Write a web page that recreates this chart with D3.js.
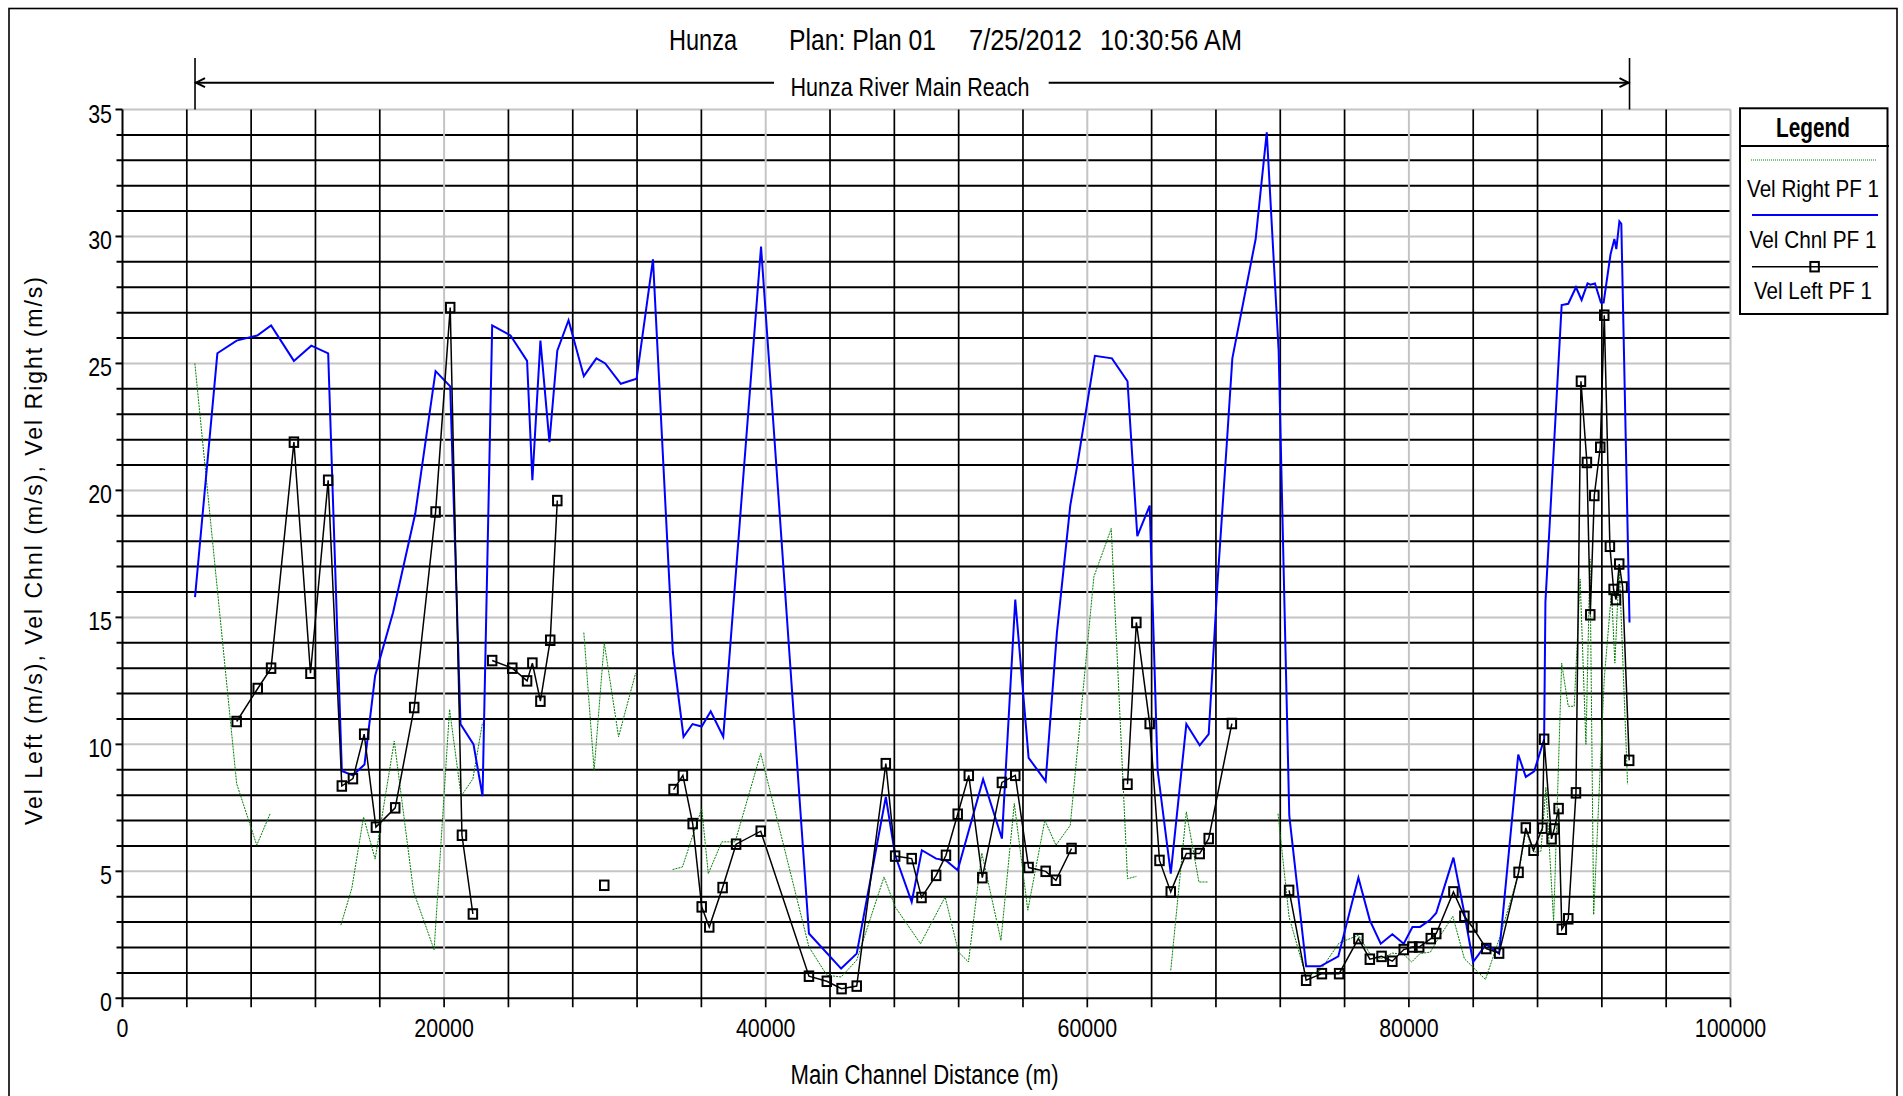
<!DOCTYPE html>
<html>
<head>
<meta charset="utf-8">
<script src="https://cdn.jsdelivr.net/npm/d3@7"></script>
<style>
  html, body { margin: 0; padding: 0; background: #fff; overflow: hidden; }
  svg { display: block; }
</style>
</head>
<body>
<svg id="chart"></svg>
<script>
// ---- Profile data: [main channel station (m), velocity (m/s)]; null = no overbank flow ----
const velChnl = [
  [4510,15.8],[5900,25.4],[7100,25.9],[8380,26.1],[9240,26.5],[10660,25.1],[11740,25.7],[12790,25.4],
  [13640,8.95],[14330,8.78],[15050,9.21],[15710,12.7],[16830,15.2],[18210,19.1],[19470,24.7],[20380,24.1],
  [21020,10.8],[21830,10.0],[22390,7.96],[22990,26.5],[24130,26.1],[25160,25.1],[25490,20.4],[25990,25.9],
  [26550,21.9],[27040,25.5],[27740,26.7],[28690,24.5],[29470,25.2],[30020,25.0],[30990,24.2],[31970,24.4],
  [32990,29.1],[34230,13.6],[34890,10.3],[35450,10.8],[36020,10.7],[36580,11.3],[37360,10.3],[39710,29.6],
  [42690,2.55],[44690,1.17],[45660,1.76],[47470,7.93],[48050,5.63],[49080,3.79],[49710,5.83],[50600,5.5],
  [51210,5.43],[51940,5.04],[53520,8.63],[54690,6.29],[55520,15.7],[56350,9.47],[57410,8.55],[58110,14.4],
  [58940,19.4],[59350,20.9],[60470,25.3],[61530,25.2],[62500,24.3],[63110,18.2],[63880,19.4],[64370,9.0],
  [65190,4.91],[66160,10.8],[66990,9.96],[67550,10.4],[68110,16.5],[68660,21.7],[69020,25.2],[70470,29.9],
  [71160,34.1],[71900,25.5],[72560,7.2],[73610,1.26],[74490,1.26],[75610,1.65],[76860,4.75],[77570,3.07],
  [78250,2.15],[78970,2.52],[79680,2.15],[80220,2.81],[80690,2.81],[81290,3.07],[81700,3.36],[82770,5.54],
  [83450,3.34],[83990,1.43],[84810,2.13],[85610,1.76],[86800,9.6],[87270,8.72],[87790,8.94],[88410,10.2],
  [88490,15.6],[89500,27.3],[89910,27.35],[90390,28.0],[90740,27.5],[91110,28.15],[91280,28.1],[91570,28.15],
  [91940,27.4],[92110,27.4],[92540,29.3],[92780,29.9],[92900,29.5],[93090,30.6],[93210,30.5],[93720,14.8]
];

const velLeft = [
  [7100,10.9],[8410,12.2],[9240,13.0],[10660,21.9],[11690,12.8],[12790,20.4],[13640,8.36],[14330,8.65],
  [15030,10.4],[15760,6.74],[16960,7.5],[18140,11.45],[19470,19.15],[20380,27.2],[21110,6.42],[21790,3.32],
  [22390,null],
  [22990,13.3],[24240,13.0],[25160,12.5],[25490,13.2],[25990,11.7],[26600,14.1],[27040,19.6],
  [28690,null],
  [29960,4.45],
  [30990,null],
  [34270,8.22],[34850,8.78],[35460,6.88],[36020,3.6],[36490,2.81],[37320,4.36],[38160,6.07],[39690,6.58],
  [42690,0.87],[43800,0.67],[44720,0.38],[45660,0.48],[47470,9.24],[48050,5.6],[49080,5.5],[49690,3.97],
  [50600,4.84],[51210,5.63],[51940,7.25],[52630,8.78],[53470,4.75],[54690,8.5],[55520,8.78],[56350,5.15],
  [57410,5.0],[58050,4.65],[59020,5.9],
  [60470,null],
  [62500,8.43],[63050,14.8],[63880,10.82],[64490,5.43],[65190,4.19],[66160,5.7],[66990,5.7],[67550,6.29],
  [68990,10.82],
  [70470,null],
  [72550,4.25],[73610,0.71],[74590,0.97],[75660,0.97],[76860,2.35],[77570,1.54],[78300,1.65],[78970,1.46],
  [79680,1.92],[80220,2.02],[80640,2.02],[81360,2.35],[81700,2.55],[82770,4.19],[83450,3.23],[83950,2.81],
  [84810,1.96],[85610,1.78],[86820,4.96],[87270,6.71],[87750,5.83],[88300,6.7],[88410,10.2],[88870,6.28],
  [89040,6.67],[89310,7.47],[89510,2.72],[89910,3.13],[90390,8.09],[90700,24.3],[91070,21.1],[91280,15.1],
  [91530,19.8],[91900,21.7],[92150,26.9],[92500,17.8],[92730,16.1],[92880,15.7],[93080,17.1],[93290,16.2],
  [93700,9.37]
];

const velRight = [
  [4500,25.0],[7100,8.45],[8350,6.03],[9180,7.27],
  [10660,null],
  [13580,2.88],[14260,4.33],[14990,7.14],[15710,5.48],[16900,10.13],[18100,4.2],[19380,1.91],[20340,11.38],
  [21060,7.96],[21790,8.64],[22390,10.86],
  [24130,null],
  [28690,14.4],[29330,8.98],[29960,14.0],[30850,10.3],[31910,12.8],
  [32990,null],
  [34210,5.07],[34820,5.17],[36020,7.47],[36430,4.91],[37270,6.16],[38100,6.16],[39690,9.64],[42690,2.02],
  [43800,0.91],[44690,0.84],[45660,1.5],[47360,4.78],[48050,3.6],[49630,2.15],[51160,3.99],[51990,1.82],
  [52610,1.43],[53440,5.72],[54630,2.28],[55460,7.67],[56300,3.47],[57360,7.01],[58050,6.03],[58940,6.81],
  [60410,16.6],[61490,18.5],[62500,4.71],[63050,4.8],
  [63880,null],
  [65190,1.1],[66160,7.34],[66940,4.58],[67490,4.58],
  [68110,null],
  [71860,7.27],[72550,3.2],[73610,0.84],[74490,1.1],[75660,2.18],[76860,2.48],[77570,1.76],[78250,1.56],
  [78970,1.78],[79680,1.73],[80170,1.43],[80690,1.76],[81340,1.82],[81700,2.22],[82730,3.23],[83450,1.56],
  [84760,0.74],[85650,2.4],[86820,4.9],[87270,6.6],[87750,5.76],[88210,5.79],[88520,8.3],[89000,3.02],
  [89500,13.2],[89910,11.5],[90280,11.5],[90650,16.5],[91010,10.0],[91260,17.3],[91490,3.29],[92150,12.6],
  [92600,16.0],[92810,13.2],[93080,17.0],[93600,8.43]
];

// ---- Labels ----
const titleRiver = "Hunza";
const titlePlan = "Plan: Plan 01";
const titleDate = "7/25/2012";
const titleTime = "10:30:56 AM";
const reachName = "Hunza River Main Reach";
const xAxisTitle = "Main Channel Distance (m)";
const yAxisTitle = "Vel Left (m/s), Vel Chnl (m/s), Vel Right (m/s)";
const legendTitle = "Legend";
const seriesNames = ["Vel Right PF 1", "Vel Chnl PF 1", "Vel Left PF 1"];
const xTickValues = [0, 20000, 40000, 60000, 80000, 100000];
const yTickValues = [0, 5, 10, 15, 20, 25, 30, 35];

// ---- Layout ----
const W = 1903, H = 1096;
const NARROW = '"Liberation Sans Narrow", "Arial Narrow", "Liberation Sans", Arial, sans-serif';
const REGULAR = '"Liberation Sans", Arial, sans-serif';

const svg = d3.select("#chart").attr("width", W).attr("height", H);
svg.append("rect").attr("width", W).attr("height", H).attr("fill", "#fff");

const x = d3.scaleLinear().domain([0, 100000]).range([122.5, 1730.5]);
const y = d3.scaleLinear().domain([0, 35]).range([998.3, 109.5]);
const [x0, x1] = x.range();
const [yb, yt] = y.range();

// outer frame
svg.append("rect").attr("x", 9).attr("y", 8.5).attr("width", 1888).attr("height", 1100)
  .attr("fill", "none").attr("stroke", "#000").attr("stroke-width", 1.6);

function fitText(sel, w) {
  return sel.attr("textLength", w).attr("lengthAdjust", "spacingAndGlyphs");
}

// ---- Grid ----
const grid = svg.append("g");
// minor horizontal (every 1 m/s)
d3.range(1, 35).filter(v => v % 5 !== 0).forEach(v => {
  grid.append("line").attr("x1", x0 - 6).attr("x2", x1).attr("y1", y(v)).attr("y2", y(v))
    .attr("stroke", "#000").attr("stroke-width", 2);
});
// major horizontal (every 5 m/s)
yTickValues.filter(v => v > 0).forEach(v => {
  grid.append("line").attr("x1", x0).attr("x2", x1).attr("y1", y(v)).attr("y2", y(v))
    .attr("stroke", "#c4c4c4").attr("stroke-width", 2);
  grid.append("line").attr("x1", x0 - 7).attr("x2", x0).attr("y1", y(v)).attr("y2", y(v))
    .attr("stroke", "#000").attr("stroke-width", 2);
});
// minor vertical (every 4000 m)
d3.range(4000, 100000, 4000).filter(d => d % 20000 !== 0).forEach(d => {
  grid.append("line").attr("x1", x(d)).attr("x2", x(d)).attr("y1", yt).attr("y2", yb + 9)
    .attr("stroke", "#000").attr("stroke-width", 1.7);
});
// major vertical (every 20000 m)
xTickValues.filter(d => d > 0).forEach(d => {
  grid.append("line").attr("x1", x(d)).attr("x2", x(d)).attr("y1", yt).attr("y2", yb)
    .attr("stroke", "#c4c4c4").attr("stroke-width", 2);
  grid.append("line").attr("x1", x(d)).attr("x2", x(d)).attr("y1", yb).attr("y2", yb + 9)
    .attr("stroke", "#000").attr("stroke-width", 1.7);
});
// axes
grid.append("line").attr("x1", x0).attr("x2", x0).attr("y1", yt).attr("y2", yb + 9)
  .attr("stroke", "#000").attr("stroke-width", 2);
grid.append("line").attr("x1", x0 - 7).attr("x2", x1).attr("y1", yb).attr("y2", yb)
  .attr("stroke", "#000").attr("stroke-width", 2);

// tick labels
yTickValues.forEach(v => {
  const s = String(v);
  fitText(svg.append("text").attr("x", 112).attr("y", y(v) + 13)
    .attr("text-anchor", "end").attr("font-family", NARROW).attr("font-size", 26)
    .text(s), s.length * 11.9);
});
xTickValues.forEach(d => {
  const s = String(d);
  fitText(svg.append("text").attr("x", x(d)).attr("y", 1036.5)
    .attr("text-anchor", "middle").attr("font-family", NARROW).attr("font-size", 26)
    .text(s), s.length * 11.9);
});

// axis titles
fitText(svg.append("text").attr("x", 924.5).attr("y", 1084)
  .attr("text-anchor", "middle").attr("font-family", NARROW).attr("font-size", 27)
  .text(xAxisTitle), 268);
svg.append("text").attr("transform", "translate(42,551) rotate(-90)")
  .attr("text-anchor", "middle").attr("font-family", REGULAR).attr("font-size", 23)
  .attr("textLength", 548).attr("lengthAdjust", "spacing")
  .text(yAxisTitle);

// ---- Title ----
[[titleRiver, 669, 68], [titlePlan, 789, 147], [titleDate, 969, 113], [titleTime, 1100, 142]]
  .forEach(([t, tx, tw]) => {
    fitText(svg.append("text").attr("x", tx).attr("y", 50)
      .attr("font-family", NARROW).attr("font-size", 30).text(t), tw);
  });

// ---- Reach extent annotation ----
const reachStart = d3.min(velChnl, d => d[0]);
const reachEnd = d3.max(velChnl, d => d[0]);
const ra = svg.append("g").attr("stroke", "#000").attr("fill", "none");
const ay = 82.7, xa = x(reachStart), xb = x(reachEnd);
ra.append("line").attr("x1", xa).attr("x2", xa).attr("y1", 58).attr("y2", yt).attr("stroke-width", 1.6);
ra.append("line").attr("x1", xb).attr("x2", xb).attr("y1", 58).attr("y2", yt).attr("stroke-width", 1.6);
ra.append("line").attr("x1", xa).attr("x2", 774).attr("y1", ay).attr("y2", ay).attr("stroke-width", 2);
ra.append("line").attr("x1", 1048.7).attr("x2", xb).attr("y1", ay).attr("y2", ay).attr("stroke-width", 2);
ra.append("path").attr("d", `M${xa + 10},${ay - 4.5} L${xa + 1},${ay} L${xa + 10},${ay + 4.5}`).attr("stroke-width", 2);
ra.append("path").attr("d", `M${xb - 10},${ay - 4.5} L${xb - 1},${ay} L${xb - 10},${ay + 4.5}`).attr("stroke-width", 2);
fitText(svg.append("text").attr("x", 910).attr("y", 95.5).attr("text-anchor", "middle")
  .attr("font-family", NARROW).attr("font-size", 26).text(reachName), 239);

// ---- Series ----
const line = d3.line().defined(d => d[1] !== null).x(d => x(d[0])).y(d => y(d[1]));
const plot = svg.append("g");
const SQW = 8.5, SQH = 9.5;

plot.append("path").datum(velRight).attr("d", line).attr("fill", "none")
  .attr("stroke", "#008000").attr("stroke-width", 1).attr("stroke-dasharray", "2,1");
plot.append("path").datum(velChnl).attr("d", line).attr("fill", "none")
  .attr("stroke", "#0000ff").attr("stroke-width", 2).attr("stroke-linejoin", "miter");
plot.append("path").datum(velLeft).attr("d", line).attr("fill", "none")
  .attr("stroke", "#000").attr("stroke-width", 1.5);
plot.append("g").selectAll("rect").data(velLeft.filter(d => d[1] !== null)).join("rect")
  .attr("x", d => x(d[0]) - SQW / 2).attr("y", d => y(d[1]) - SQH / 2)
  .attr("width", SQW).attr("height", SQH)
  .attr("fill", "none").attr("stroke", "#000").attr("stroke-width", 2);

// ---- Legend ----
const lg = svg.append("g");
const lgCx = 1813;
lg.append("rect").attr("x", 1740).attr("y", 108.3).attr("width", 147.5).attr("height", 205.7)
  .attr("fill", "#fff").attr("stroke", "#000").attr("stroke-width", 2);
lg.append("line").attr("x1", 1740).attr("x2", 1889).attr("y1", 146).attr("y2", 146)
  .attr("stroke", "#000").attr("stroke-width", 2);
fitText(lg.append("text").attr("x", lgCx).attr("y", 136.7).attr("text-anchor", "middle")
  .attr("font-family", NARROW).attr("font-weight", "bold").attr("font-size", 27).text(legendTitle), 74);

lg.append("line").attr("x1", 1751).attr("x2", 1877).attr("y1", 160).attr("y2", 160)
  .attr("stroke", "#008000").attr("stroke-width", 1).attr("stroke-dasharray", "1,1");
lg.append("line").attr("x1", 1752).attr("x2", 1878).attr("y1", 215).attr("y2", 215)
  .attr("stroke", "#0000ff").attr("stroke-width", 2);
lg.append("line").attr("x1", 1752).attr("x2", 1878).attr("y1", 266.7).attr("y2", 266.7)
  .attr("stroke", "#000").attr("stroke-width", 1.5);
lg.append("rect").attr("x", 1814.6 - SQW / 2).attr("y", 266.7 - SQH / 2).attr("width", SQW).attr("height", SQH)
  .attr("fill", "none").attr("stroke", "#000").attr("stroke-width", 2);

[[seriesNames[0], 196.7, 132], [seriesNames[1], 248.3, 127], [seriesNames[2], 299, 118]]
  .forEach(([t, ty, tw]) => {
    fitText(lg.append("text").attr("x", lgCx).attr("y", ty).attr("text-anchor", "middle")
      .attr("font-family", NARROW).attr("font-size", 24.5).text(t), tw);
  });
</script>
</body>
</html>
